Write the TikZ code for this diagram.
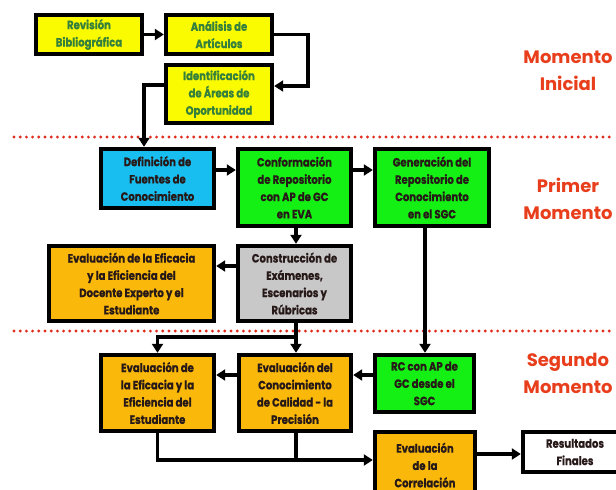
\documentclass[tikz,border=0pt]{standalone}
\usepackage{fontspec}
\setmainfont{Poppins}
\newfontfamily\boxfont{Poppins}[FakeStretch=0.84, FakeBold=0.6]
\usetikzlibrary{arrows.meta,calc}
\definecolor{ybox}{RGB}{250,250,0}
\definecolor{gtext}{RGB}{52,128,60}
\definecolor{bbox}{RGB}{24,190,240}
\definecolor{grbox}{RGB}{20,240,20}
\definecolor{gybox}{RGB}{200,200,200}
\definecolor{obox}{RGB}{250,185,10}
\definecolor{dtext}{RGB}{40,25,25}
\definecolor{momred}{RGB}{232,62,28}
\definecolor{dotred}{RGB}{225,45,30}
\tikzset{
  x=1pt, y=-1pt,
  stagebox/.style={draw=black, line width=4.4pt, align=center, inner sep=1pt,
    font=\boxfont\bfseries\fontsize{12}{17.3}\selectfont, text=dtext},
  yelbox/.style={stagebox, fill=ybox, text=gtext},
  blubox/.style={stagebox, fill=bbox},
  grnbox/.style={stagebox, fill=grbox},
  grybox/.style={stagebox, fill=gybox},
  orgbox/.style={stagebox, fill=obox},
  whtbox/.style={stagebox, fill=white},
  flow/.style={line width=3.6pt, -{Triangle[length=9pt,width=11pt]}},
  plain/.style={line width=3.6pt},
  phase/.style={text=momred, align=center,
    font=\bfseries\fontsize{18}{27}\selectfont},
  divider/.style={dotred, line width=3.2pt, line cap=round,
    dash pattern=on 0pt off 6.2pt},
}
\begin{document}
\begin{tikzpicture}
\useasboundingbox (0,0) rectangle (616,490);
\fill[white] (0,0) rectangle (616,490);

% phase dividers
\coordinate (d1a) at (14,137);
\coordinate (d1b) at (610,137);
\coordinate (d2a) at (14,331);
\coordinate (d2b) at (610,331);
\draw[divider] (d1a) -- (d1b);
\draw[divider] (d2a) -- (d2b);

% phase titles
\node[phase] (ph1) at (568,71) {Momento\\Inicial};
\node[phase] (ph2) at (568,199) {Primer\\Momento};
\node[phase] (ph3) at (568,373) {Segundo\\Momento};

% initial stage
\node[yelbox, minimum width=106, minimum height=39] (rev) at (89,34.5) {Revisión\\Bibliográfica};
\node[yelbox, minimum width=106, minimum height=39] (ana) at (219,34.5) {Análisis de\\Artículos};
\node[yelbox, minimum width=106, minimum height=58] (ide) at (219,94) {Identificación\\de Áreas de\\Oportunidad};

% first stage
\node[blubox, minimum width=113, minimum height=59] (def) at (157.5,178.5) {Definición de\\Fuentes  de\\Conocimiento};
\node[grnbox, minimum width=113, minimum height=77] (con) at (294.5,187.5) {Conformación\\de Repositorio\\con AP de GC\\en EVA};
\node[grnbox, minimum width=114, minimum height=77] (gen) at (432,187.5) {Generación  del\\Repositorio de\\Conocimiento\\en el SGC};
\node[grybox, minimum width=113, minimum height=75] (cons) at (294.5,283.5) {Construcción de\\Exámenes,\\Escenarios y\\Rúbricas};
\node[orgbox, minimum width=165, minimum height=75] (edoc) at (131.5,283.5) {Evaluación de la Eficacia\\y la Eficiencia del\\Docente Experto y el\\Estudiante};

% second stage
\node[orgbox, minimum width=112, minimum height=76] (ecal) at (295,393) {Evaluación del\\Conocimiento\\de Calidad  - la\\Precisión};
\node[orgbox, minimum width=113, minimum height=76] (eest) at (157.5,393) {Evaluación de\\la Eficacia y  la\\Eficiencia del\\Estudiante};
\node[grnbox, minimum width=99, minimum height=57] (rc) at (424.5,383.5) {RC con AP de\\GC desde el\\SGC};
\node[orgbox, minimum width=100, minimum height=66] (corr) at (425,465) {Evaluación\\de la\\Correlación};
\node[whtbox, minimum width=104, minimum height=40] (res) at (575,452) {Resultados\\Finales};

% connectors, initial stage
\draw[flow] (rev) -- (ana);
\coordinate (r1) at (308,34.5);
\coordinate (r2) at (308,86);
\draw[flow] (ana.east) -- (r1) -- (r2) -- (ide.east |- r2);
\coordinate (l1) at (144,85);
\draw[flow] (ide.west |- l1) -- (l1) -- (l1 |- def.north);

% connectors, first stage
\coordinate (h1) at (0,170);
\draw[flow] (def.east |- h1) -- (con.west |- h1);
\draw[flow] (con.east |- h1) -- (gen.west |- h1);
\coordinate (v1) at (296,0);
\draw[flow] (v1 |- con.south) -- (v1 |- cons.north);
\coordinate (h2) at (0,266);
\draw[flow] (cons.west |- h2) -- (edoc.east |- h2);

% connectors, second stage
\coordinate (v2) at (425,0);
\draw[flow] (v2 |- gen.south) -- (v2 |- rc.north);
\draw[flow] (v1 |- cons.south) -- (v1 |- ecal.north);
\coordinate (br) at (296,337);
\draw[flow] (br) -- (br -| eest.north) -- (eest.north);
\coordinate (h3) at (0,375);
\draw[flow] (rc.west |- h3) -- (ecal.east |- h3);
\draw[flow] (ecal.west |- h3) -- (eest.east |- h3);
\coordinate (h4) at (0,460);
\draw[flow] (eest.south) -- (eest.south |- h4) -- (corr.west |- h4);
\draw[plain] (v1 |- ecal.south) -- (v1 |- h4);
\coordinate (h5) at (0,454);
\draw[flow] (corr.east |- h5) -- (res.west |- h5);
\end{tikzpicture}
\end{document}
